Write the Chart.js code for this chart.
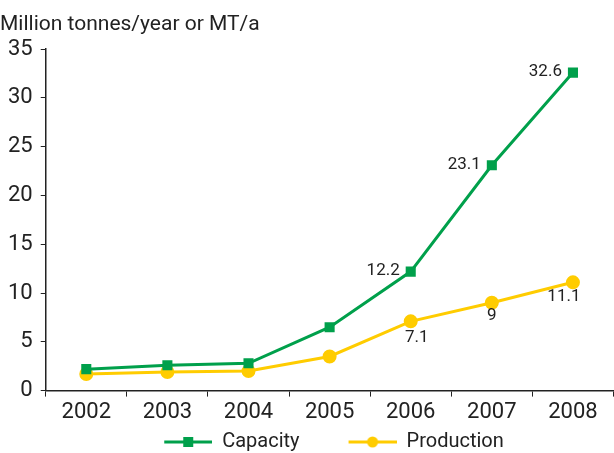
<!DOCTYPE html>
<html>
<head>
<meta charset="utf-8">
<script src="https://cdn.jsdelivr.net/npm/chart.js@4"></script>
<style>
  html, body { margin: 0; padding: 0; background: #fff; overflow: hidden; }
  .chart-wrap { width: 622px; height: 462px; }
</style>
</head>
<body>
<div class="chart-wrap"><canvas id="capChart"></canvas></div>
<script>
const years = ["2002", "2003", "2004", "2005", "2006", "2007", "2008"];
const capacity = [2.2, 2.6, 2.8, 6.5, 12.2, 23.1, 32.6];
const production = [1.7, 1.9, 2.0, 3.5, 7.1, 9, 11.1];
// which points carry a value label
const labelled = [4, 5, 6];

const FONT = '"Liberation Sans Narrow", "Arial Narrow", Roboto, sans-serif';
const GREEN = "#00a04b";
const YELLOW = "#ffcc00";

// legend swatch: transparent lead, then a short line with the marker in the middle
function swatch(color, shape) {
  const lead = 46, w = 48;
  const c = document.createElement("canvas");
  c.width = lead + w; c.height = 12;
  const g = c.getContext("2d");
  g.strokeStyle = color; g.lineWidth = 3;
  g.beginPath(); g.moveTo(lead, 6); g.lineTo(lead + w, 6); g.stroke();
  g.fillStyle = color;
  if (shape === "rect") g.fillRect(lead + 19, 1, 10, 10);
  else { g.beginPath(); g.arc(lead + 24, 6, 5.5, 0, Math.PI * 2); g.fill(); }
  return c;
}

// value labels: capacity to the left of the point, production below it
const valueLabels = {
  id: "valueLabels",
  afterDatasetsDraw(chart) {
    const ctx = chart.ctx;
    ctx.save();
    ctx.font = "17px " + FONT;
    ctx.fillStyle = "#222";
    chart.data.datasets.forEach((ds, i) => {
      const meta = chart.getDatasetMeta(i);
      labelled.forEach((j) => {
        const pt = meta.data[j];
        if (i === 0) {
          ctx.textAlign = "right"; ctx.textBaseline = "middle";
          ctx.fillText(String(ds.data[j]), pt.x - 11, pt.y - 1);
        } else {
          // 2006 sits a bit lower and to the right, 2008 shifted left
          const dx = j === 4 ? 6 : j === 6 ? -9 : 0;
          const dy = j === 4 ? 8 : j === 6 ? 6 : 4;
          ctx.textAlign = "center"; ctx.textBaseline = "top";
          ctx.fillText(String(ds.data[j]), pt.x + dx, pt.y + dy);
        }
      });
    });
    ctx.restore();
  }
};

new Chart(document.getElementById("capChart"), {
  type: "line",
  data: {
    labels: years,
    datasets: [
      {
        label: "Capacity",
        data: capacity,
        borderColor: GREEN,
        backgroundColor: GREEN,
        borderWidth: 3,
        pointStyle: "rect",
        pointRadius: 5,
        tension: 0
      },
      {
        label: "Production",
        data: production,
        borderColor: YELLOW,
        backgroundColor: YELLOW,
        borderWidth: 3,
        pointStyle: "circle",
        pointRadius: 5.5,
        tension: 0
      }
    ]
  },
  options: {
    responsive: true,
    maintainAspectRatio: false,
    animation: false,
    layout: { padding: { left: 0, right: 0, top: 6, bottom: 0 } },
    plugins: {
      title: {
        display: true,
        text: "Million tonnes/year or MT/a",
        align: "start",
        color: "#222",
        font: { family: FONT, size: 21, weight: "normal" },
        padding: { top: 6, bottom: 12, left: 10 }
      },
      legend: {
        position: "bottom",
        labels: {
          color: "#222",
          font: { family: FONT, size: 20 },
          usePointStyle: true,
          pointStyleWidth: 94,
          padding: 3,
          generateLabels(chart) {
            const items = Chart.defaults.plugins.legend.labels.generateLabels(chart);
            items[0].pointStyle = swatch(GREEN, "rect");
            items[1].pointStyle = swatch(YELLOW, "circle");
            return items;
          }
        }
      },
      tooltip: { enabled: false }
    },
    scales: {
      x: {
        offset: true,
        border: { color: "#222", width: 1.5 },
        grid: { display: true, drawOnChartArea: false, offset: true, tickLength: 6, tickColor: "#222" },
        ticks: { color: "#222", font: { family: FONT, size: 22 }, padding: 3 }
      },
      y: {
        min: 0,
        max: 35,
        border: { color: "#222", width: 1.5 },
        grid: { drawOnChartArea: false, tickLength: 5, tickColor: "#222" },
        ticks: { stepSize: 5, color: "#222", font: { family: FONT, size: 22 }, padding: 8 }
      }
    }
  },
  plugins: [valueLabels]
});
</script>
</body>
</html>
